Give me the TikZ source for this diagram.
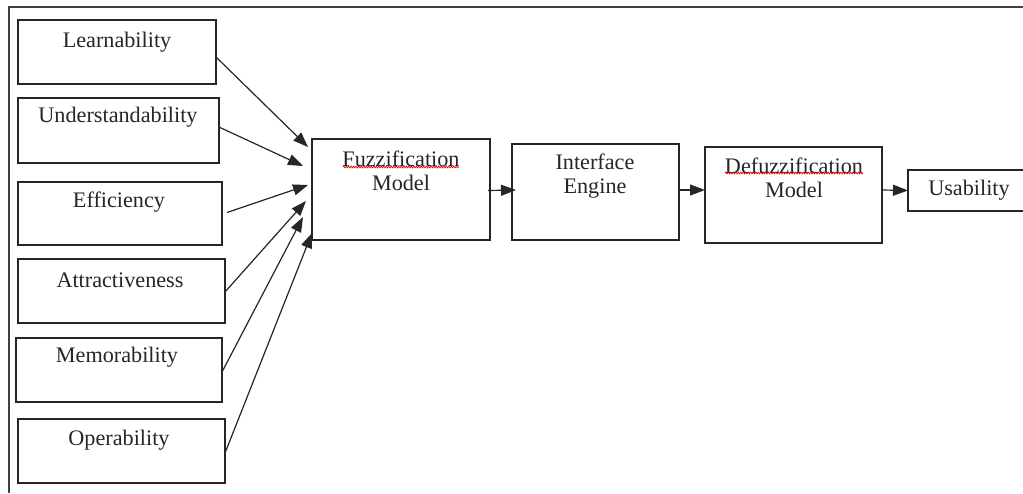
\documentclass[tikz,border=0pt]{standalone}
\usepackage{fontspec}
\setmainfont{Liberation Serif}
\usetikzlibrary{arrows.meta,calc,decorations.pathmorphing}
\begin{document}
\begin{tikzpicture}[x=1pt,y=-1pt,
  box/.style={draw=black!85,line width=1.3pt,rectangle,anchor=north west,inner sep=0pt,outer sep=0pt},
  lbl/.style={font=\fontsize{22.2}{24}\selectfont,text=black!85,align=center,inner sep=0pt},
  conn/.style={draw=black!85,line width=1.2pt,-{Triangle[length=15pt,width=11pt]}},
  squig/.style={draw=red!85!black,line width=0.7pt,decorate,decoration={snake,amplitude=0.9pt,segment length=2.5pt}}]
\useasboundingbox (0,0) rectangle (1023,493);
\fill[white] (0,0) rectangle (1023,493);
% outer frame
\coordinate (ftl) at (9,7);
\coordinate (ftr) at (1023,7);
\coordinate (fbl) at (9,493);
\draw[black!75,line width=1.3pt] (ftr) -- (ftl) -- (fbl);
% input boxes
\node[box,minimum width=198,minimum height=64] (l) at (18,20) {};
\node[box,minimum width=201,minimum height=65] (u) at (18,98) {};
\node[box,minimum width=204,minimum height=63] (e) at (18,182) {};
\node[box,minimum width=207,minimum height=64] (a) at (18,259) {};
\node[box,minimum width=206,minimum height=64] (m) at (16,338) {};
\node[box,minimum width=207,minimum height=64] (o) at (18,419) {};
\node[lbl] (lt) at (117,42) {Learnability};
\node[lbl] (ut) at (118,117) {Understandability};
\node[lbl] (et) at (119,202) {Efficiency};
\node[lbl] (at) at (120,280) {Attractiveness};
\node[lbl] (mt) at (117,357) {Memorability};
\node[lbl] (ot) at (119,440) {Operability};
% main boxes
\node[box,minimum width=178,minimum height=101] (fz) at (312,139) {};
\node[box,minimum width=167,minimum height=96] (ie) at (512,144) {};
\node[box,minimum width=177,minimum height=96] (dz) at (705,147) {};
\node[box,minimum width=140,minimum height=41] (us) at (908,170) {};
\node[lbl] (fzt) at (401,171) {Fuzzification\\Model};
\node[lbl] (iet) at (595,176) {Interface\\Engine};
\node[lbl] (dzt) at (794,178) {Defuzzification\\Model};
\node[lbl] (ust) at (969,190) {Usability};
% spell-check squiggles
\coordinate (s1a) at (343,167); \coordinate (s1b) at (459,167);
\coordinate (s2a) at (725,173); \coordinate (s2b) at (863,173);
\path[squig] (s1a) -- (s1b);
\path[squig] (s2a) -- (s2b);
% input connectors
\path[conn] ($(l.east)+(0,5)$) -- ($(fz.north west)+(-4,8)$);
\path[conn] ($(u.east)+(1,-3)$) -- ($(fz.north west)+(-9,27)$);
\path[conn] ($(e.east)+(5,-1)$) -- ($(fz.north west)+(-4,46)$);
\path[conn] ($(a.east)+(0,1)$) -- ($(fz.north west)+(-6,62)$);
\path[conn] ($(m.east)+(0,2)$) -- ($(fz.north west)+(-9,78)$);
\path[conn] ($(o.east)+(0,2)$) -- ($(fz.south west)+(0,-7)$);
% main chain
\path[conn] ($(fz.east)+(-2,1)$) -- ($(ie.west)+(4,-2)$);
\path[conn] ($(ie.east)+(0,-2)$) -- ($(dz.west)+(0,-5)$);
\path[conn] ($(dz.east)+(0,-5)$) -- (us.west);
\end{tikzpicture}
\end{document}
